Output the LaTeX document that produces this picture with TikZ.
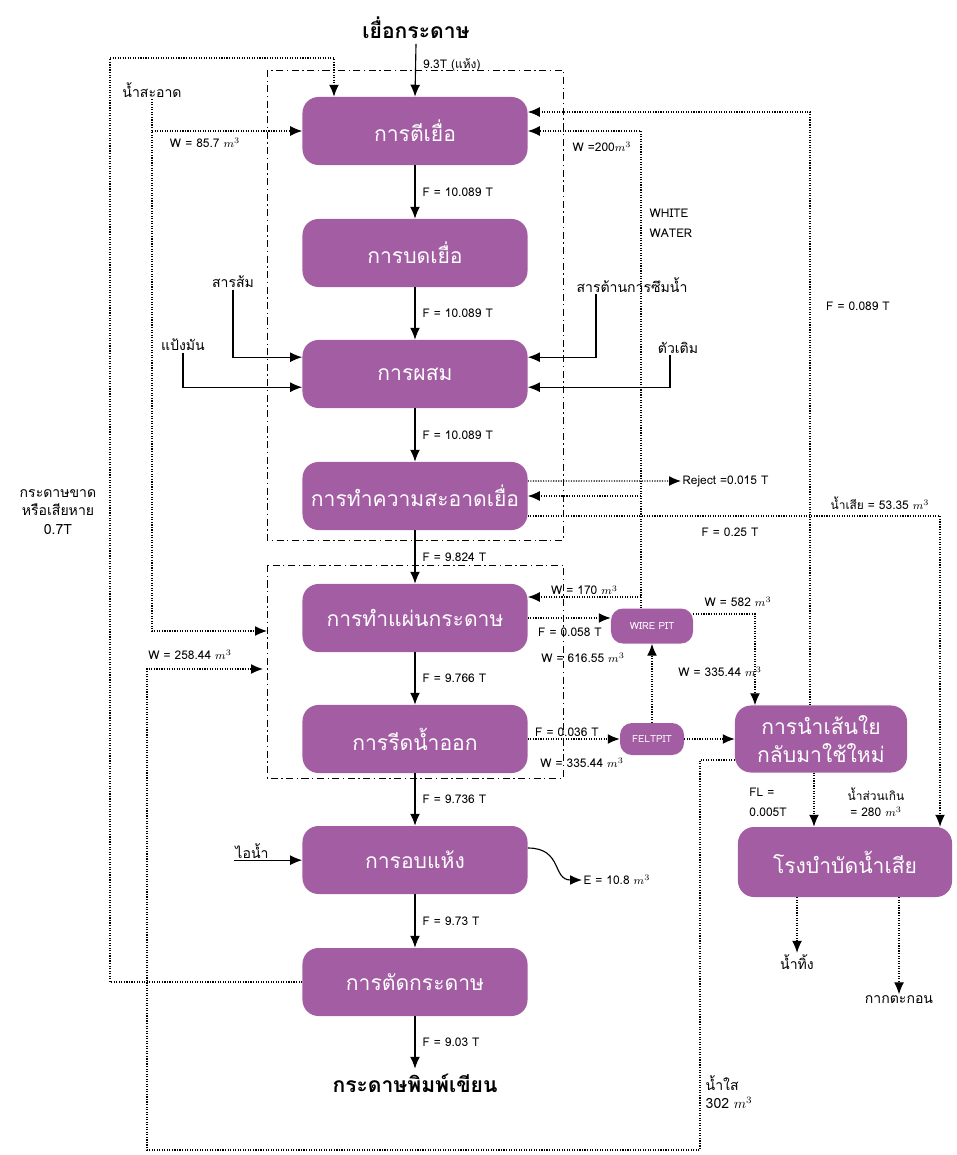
\documentclass[tikz,border=0pt]{standalone}
\usepackage{fontspec}
\setmainfont{Loma}[Script=Thai]
\usetikzlibrary{arrows.meta,positioning,calc}
\definecolor{procpurple}{RGB}{163,93,163}

\begin{document}
\begin{tikzpicture}[x=0.025cm,y=-0.025cm,
    proc/.style={rectangle, rounded corners=0.4cm, fill=procpurple, text=white,
      minimum width=5.625cm, minimum height=1.7cm, align=center,
      font=\fontsize{15}{19}\selectfont},
    pit/.style={rectangle, rounded corners=0.3cm, fill=procpurple, text=white,
      inner sep=1pt, font=\fontsize{7}{8}\selectfont},
    arr/.style={-{Latex[length=8.5pt,width=7pt]}, thick},
    dotarr/.style={-{Latex[length=8.5pt,width=7pt]}, densely dotted, thick},
    grp/.style={dash pattern=on 5pt off 2.5pt on 1pt off 2.5pt, semithick},
    lab/.style={font=\fontsize{8.5}{11}\selectfont, inner sep=1pt},
    tlab/.style={font=\fontsize{10}{13}\selectfont, inner sep=1pt}]
  \useasboundingbox (0,0) rectangle (956,1155);

  % group frames
  \draw[grp] (267,70) rectangle (563,540);
  \draw[grp] (267,565) rectangle (563,778);

  % process boxes
  \node[proc] (beat) at (415,131) {การตีเยื่อ};
  \node[proc] (refine) at (415,253) {การบดเยื่อ};
  \node[proc] (mix) at (415,374) {การผสม};
  \node[proc] (clean) at (415,496) {การทำความสะอาดเยื่อ};
  \node[proc] (form) at (415,618) {การทำแผ่นกระดาษ};
  \node[proc] (press) at (415,739) {การรีดน้ำออก};
  \node[proc] (dry) at (415,860) {การอบแห้ง};
  \node[proc] (cut) at (415,982) {การตัดกระดาษ};
  \node[font=\bfseries\fontsize{15}{18}\selectfont] (pulp) at (416,28) {เยื่อกระดาษ};
  \node[font=\bfseries\fontsize{15}{18}\selectfont] (paper) at (415,1083) {กระดาษพิมพ์เขียน};

  % side units
  \node[pit, minimum width=2.05cm, minimum height=0.875cm] (wire) at (652,626) {WIRE PIT};
  \node[pit, minimum width=1.6cm, minimum height=0.8cm] (felt) at (652,739) {FELTPIT};
  \node[proc, minimum width=4.3cm, minimum height=1.675cm, font=\fontsize{15}{20}\selectfont] (fibre) at (821,739) {การนำเส้นใย\\กลับมาใช้ใหม่};
  \node[proc, minimum width=5.35cm, minimum height=1.75cm] (treat) at (845,862) {โรงบำบัดน้ำเสีย};

  % main line
  \draw[arr] (pulp.south) -- (beat.north) node[lab, pos=0.4, right=4pt] {9.3T (แห้ง)};
  \draw[arr] (beat) -- (refine) node[lab, midway, right=4pt] {F = 10.089 T};
  \draw[arr] (refine) -- (mix) node[lab, midway, right=4pt] {F = 10.089 T};
  \draw[arr] (mix) -- (clean) node[lab, midway, right=4pt] {F = 10.089 T};
  \draw[arr] (clean) -- (form) node[lab, midway, right=4pt] {F = 9.824 T};
  \draw[arr] (form) -- (press) node[lab, midway, right=4pt] {F = 9.766 T};
  \draw[arr] (press) -- (dry) node[lab, midway, right=4pt] {F = 9.736 T};
  \draw[arr] (dry) -- (cut) node[lab, midway, right=4pt] {F = 9.73 T};
  \draw[arr] (cut) -- (paper) node[lab, midway, right=4pt] {F = 9.03 T};

  % chemicals
  \node[tlab] (alum) at (233,282) {สารส้ม};
  \node[tlab] (starch) at (183,345) {แป้งมัน};
  \node[tlab] (sizing) at (632,285) {สารต้านการซึมน้ำ};
  \node[tlab] (filler) at (678,348) {ตัวเติม};
  \draw[arr] (alum.south) |- ([yshift=0.42cm]mix.west);
  \draw[arr] (starch.south) |- ([yshift=-0.33cm]mix.west);
  \draw[arr] ([xshift=-0.9cm]sizing.south) |- ([yshift=0.42cm]mix.east);
  \draw[arr] ([xshift=-0.2cm]filler.south) |- ([yshift=-0.33cm]mix.east);

  % steam and evaporation
  \node[tlab] (steam) at (252,851) {ไอน้ำ};
  \draw[arr] (steam.south west) -- (steam.south west -| dry.west);
  \node[lab, anchor=west] (evap) at (582,880) {E = 10.8 $m^{3}$};
  \draw[arr] ([yshift=0.3cm]dry.east) .. controls +(35,0) and +(-30,0) .. (evap.west);

  % clean water
  \node[tlab] (water) at (152,90) {น้ำสะอาด};
  \coordinate (formin1) at (267,631);
  \draw[dotarr] (water.south) |- (formin1);
  \draw[dotarr] (water.south |- beat.west) -- (beat.west);
  \node[lab] at (205,143) {W = 85.7 $m^{3}$};

  % broke
  \coordinate (brokeTL) at (110,58);
  \draw[dotarr] (cut.west) -| (brokeTL) -| ([xshift=-2.025cm]beat.north);
  \node[tlab, align=center] (broke) at (58,512) {กระดาษขาด\\หรือเสียหาย\\0.7T};

  % clear water return
  \coordinate (cwb1) at (700,1150);
  \coordinate (cwb2) at (147,1150);
  \coordinate (formin2) at (263,669);
  \draw[dotarr] ([yshift=-0.525cm]fibre.west) -| (cwb1) -- (cwb2) |- (formin2);
  \node[lab] at (190,655) {W = 258.44 $m^{3}$};
  \node[tlab, anchor=west, align=left] at (704,1092) {น้ำใส\\302 $m^{3}$};

  % recovered fibre back to beating
  \draw[dotarr] ([xshift=-0.275cm]fibre.north) |- ([yshift=0.475cm]beat.east);
  \node[lab] at (858,306) {F = 0.089 T};

  % white water
  \coordinate (ww) at ([xshift=-0.275cm]wire.north);
  \coordinate (fw) at ([yshift=0.525cm]form.east);
  \draw[dotarr] (ww) |- (beat.east);
  \draw[dotarr] (ww |- clean.east) -- (clean.east);
  \draw[dotarr] (ww |- fw) -- (fw) node[lab, midway, above] {W = 170 $m^{3}$};
  \node[lab] at (602,147) {W =200$m^{3}$};
  \node[lab, anchor=west, align=left] at (648,223) {WHITE\\[3pt]WATER};

  % cleaning outlets
  \node[lab, anchor=west] (reject) at (681,481) {Reject =0.015 T};
  \draw[dotarr] ([yshift=0.375cm]clean.east) -- (reject.west);
  \draw[dotarr] ([yshift=-0.5cm]clean.east) -| ([xshift=2.375cm]treat.north);
  \node[lab] at (880,503) {น้ำเสีย = 53.35 $m^{3}$};
  \node[lab] at (730,532) {F = 0.25 T};

  % pits
  \draw[dotarr] (form.east) -- (form.east -| wire.west);
  \node[lab] at (570,632) {F = 0.058 T};
  \node[lab] at (583,658) {W = 616.55 $m^{3}$};
  \draw[dotarr] (felt.north) -- (wire.south);
  \node[lab] at (720,672) {W = 335.44 $m^{3}$};
  \draw[dotarr] ([yshift=0.3cm]wire.east) -| ([xshift=-1.65cm]fibre.north);
  \node[lab] at (738,602) {W = 582 $m^{3}$};
  \draw[dotarr] (press.east) -- (felt.west);
  \node[lab] at (567,732) {F = 0.036 T};
  \node[lab] at (582,763) {W = 335.44 $m^{3}$};
  \draw[dotarr] (felt.east) -- (fibre.west);

  % to treatment
  \coordinate (fs) at ([xshift=-0.175cm]fibre.south);
  \draw[dotarr] (fs) -- (fs |- treat.north);
  \node[lab, align=left] at (768,802) {FL =\\[3pt]0.005T};
  \node[lab, align=center] at (876,802) {น้ำส่วนเกิน\\= 280 $m^{3}$};
  \node[tlab] (effl) at (797,962) {น้ำทิ้ง};
  \node[tlab] (sludge) at (899,1000) {กากตะกอน};
  \draw[dotarr] (treat.south -| effl.north) -- (effl.north);
  \draw[dotarr] (treat.south -| sludge.north) -- (sludge.north);
\end{tikzpicture}
\end{document}
